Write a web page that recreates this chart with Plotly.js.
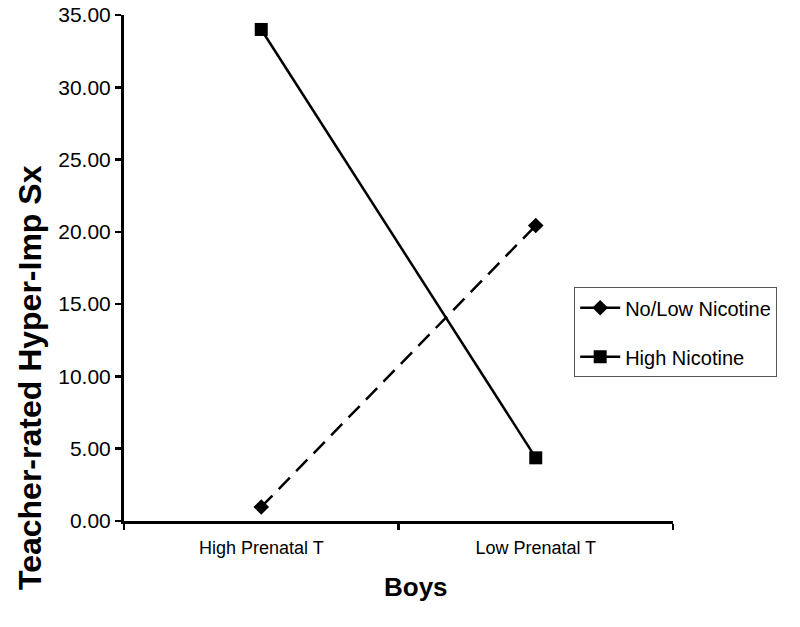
<!DOCTYPE html>
<html>
<head>
<meta charset="utf-8">
<script src="https://cdn.plot.ly/plotly-3.0.1.min.js"></script>
<style>
  body { margin: 0; background: #fff; }
  #chart { width: 800px; height: 627px; }
</style>
</head>
<body>
<div id="chart"></div>
<script>
// categories and group means
let categories = ['High Prenatal T', 'Low Prenatal T'];
let noLowNicotine = [0.97, 20.44];
let highNicotine = [34.0, 4.37];
let yTicks = [0, 5, 10, 15, 20, 25, 30, 35];

let traces = [
  {
    x: categories,
    y: noLowNicotine,
    name: 'No/Low Nicotine',
    legendgroup: 'a',
    type: 'scatter',
    mode: 'lines+markers',
    line: { color: '#000', width: 2.5, dash: '16px,9px' },
    marker: { symbol: 'diamond', size: 12, color: '#000' }
  },
  {
    x: categories,
    y: highNicotine,
    name: 'High Nicotine',
    legendgroup: 'b',
    type: 'scatter',
    mode: 'lines+markers',
    line: { color: '#000', width: 2.5 },
    marker: { symbol: 'square', size: 13, color: '#000' }
  }
];

var layout = {
  width: 800,
  height: 627,
  margin: { l: 124, r: 127, t: 15, b: 106 },
  paper_bgcolor: '#fff',
  plot_bgcolor: '#fff',
  font: { family: 'Liberation Sans, Arial, sans-serif', color: '#000' },
  showlegend: true,
  legend: {
    x: 0.82, xanchor: 'left',
    y: 0.462, yanchor: 'top',
    bordercolor: '#555', borderwidth: 1,
    bgcolor: '#fff',
    font: { size: 20 },
    itemwidth: 40,
    tracegroupgap: 20
  },
  xaxis: {
    type: 'category',
    range: [-0.5, 1.5],
    tickson: 'boundaries',
    ticks: 'outside',
    ticklen: 6,
    tickwidth: 2.5,
    tickcolor: '#000',
    ticklabelstandoff: 8,
    showline: true,
    linecolor: '#000',
    linewidth: 3,
    showgrid: false,
    zeroline: false,
    tickfont: { size: 18 },
    fixedrange: true
  },
  yaxis: {
    range: [0, 35],
    tickvals: yTicks,
    ticktext: yTicks.map(v => v.toFixed(2)),
    ticks: 'outside',
    ticklen: 6,
    tickwidth: 2.5,
    tickcolor: '#000',
    showline: true,
    linecolor: '#000',
    linewidth: 3,
    showgrid: false,
    zeroline: false,
    tickfont: { size: 21 },
    fixedrange: true
  },
  annotations: [
    {
      text: '<b>Teacher-rated Hyper-Imp Sx</b>',
      xref: 'paper', yref: 'paper',
      x: (30 - 124) / 549, y: (521 - 378) / 506,
      xanchor: 'center', yanchor: 'middle',
      textangle: -90,
      showarrow: false,
      font: { size: 32 }
    },
    {
      text: '<b>Boys</b>',
      xref: 'paper', yref: 'paper',
      x: (416 - 124) / 549, y: (521 - 587) / 506,
      xanchor: 'center', yanchor: 'middle',
      showarrow: false,
      font: { size: 26 }
    }
  ]
};

Plotly.newPlot('chart', traces, layout, { displayModeBar: false, staticPlot: true });
</script>
</body>
</html>
